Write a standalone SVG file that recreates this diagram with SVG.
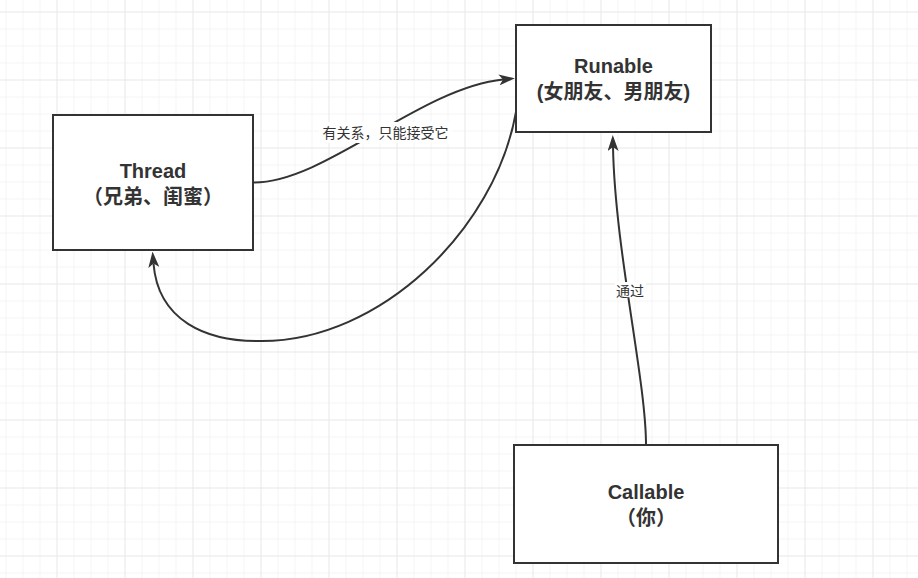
<svg xmlns="http://www.w3.org/2000/svg" width="918" height="578" viewBox="0 0 918 578">
  <defs>
    <pattern id="gridMinor" x="5.5" y="11.5" width="17" height="17" patternUnits="userSpaceOnUse">
      <path d="M0,0 H17 M0,0 V17" fill="none" stroke="#ececec" stroke-width="1"/>
    </pattern>
    <pattern id="gridMajor" x="56.5" y="11.5" width="68" height="68" patternUnits="userSpaceOnUse">
      <path d="M0,0 H68 M0,0 V68" fill="none" stroke="#dfdfdf" stroke-width="1"/>
    </pattern>
    <marker id="arrow" viewBox="0 0 16 11" refX="4" refY="5.5" markerWidth="16" markerHeight="11" markerUnits="userSpaceOnUse" orient="auto">
      <path d="M0,0 L16,5.5 L0,11 L4,5.5 Z" fill="#333333"/>
    </marker>
    <style>
      .box { fill: #ffffff; stroke: #333333; stroke-width: 2; }
      .title { font-family: "Liberation Sans", "Noto Sans CJK SC", sans-serif; font-size: 20px; font-weight: bold; fill: #333333; text-anchor: middle; }
      .edge { fill: none; stroke: #333333; stroke-width: 2; marker-end: url(#arrow); }
      .lbl { font-family: "Noto Sans CJK SC", "Liberation Sans", sans-serif; font-size: 14px; fill: #333333; text-anchor: middle; }
      .lblbg { fill: #ffffff; }
    </style>
  </defs>
  <rect x="0" y="0" width="918" height="578" fill="#ffffff"/>
  <rect x="0" y="0" width="918" height="578" fill="url(#gridMinor)"/>
  <rect x="0" y="0" width="918" height="578" fill="url(#gridMajor)"/>

  <g id="connectors">
    <path class="edge" d="M254,182.5 C325,182.5 420,88 503,79.5"/>
    <rect class="lblbg" x="319" y="122" width="133" height="21"/>
    <text class="lbl" x="385.5" y="138">有关系，只能接受它</text>

    <path class="edge" d="M516,112 C495,230 380,341 262,341 C205,342 158,320 153.5,263.5"/>

    <path class="edge" d="M646,445 C646,380 615,250 613,147"/>
    <rect class="lblbg" x="615" y="282" width="31" height="16"/>
    <text class="lbl" x="630" y="296">通过</text>
  </g>

  <g id="node-thread">
    <rect class="box" x="53" y="115" width="200" height="135"/>
    <text class="title" x="153" y="178">Thread</text>
    <text class="title" x="153" y="204">（兄弟、闺蜜）</text>
  </g>

  <g id="node-runable">
    <rect class="box" x="516" y="25" width="195" height="107"/>
    <text class="title" x="613.5" y="73">Runable</text>
    <text class="title" x="613.5" y="99">(女朋友、男朋友)</text>
  </g>

  <g id="node-callable">
    <rect class="box" x="514" y="445" width="264" height="118"/>
    <text class="title" x="646" y="499">Callable</text>
    <text class="title" x="646" y="525">（你）</text>
  </g>
</svg>
